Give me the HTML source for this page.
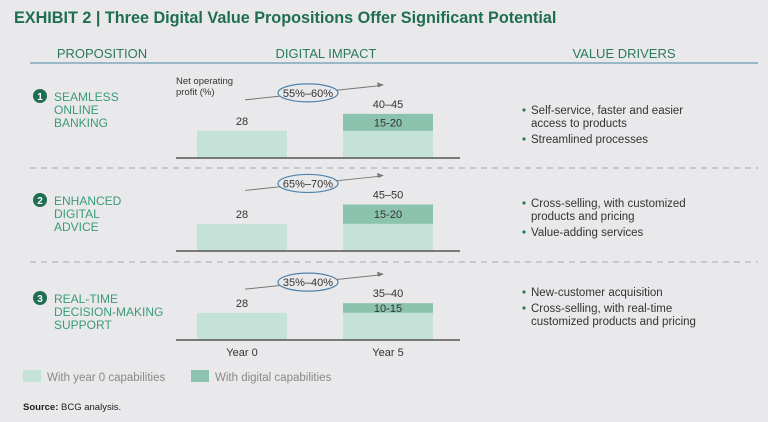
<!DOCTYPE html>
<html><head><meta charset="utf-8"><style>
html,body{margin:0;padding:0;background:#e9e9eb;}
svg{display:block;font-family:"Liberation Sans",sans-serif;}
</style></head><body>
<svg id="chart" width="768" height="422" viewBox="0 0 768 422">
<rect width="768" height="422" fill="#e9e9eb"/>
<text x="14" y="23" font-size="16.2" font-weight="bold" fill="#1f6e52">EXHIBIT 2 | Three Digital Value Propositions Offer Significant Potential</text>
<text x="102" y="58" font-size="13" fill="#2a7a5e" text-anchor="middle">PROPOSITION</text>
<text x="326" y="58" font-size="13" fill="#2a7a5e" text-anchor="middle">DIGITAL IMPACT</text>
<text x="624" y="58" font-size="13" fill="#2a7a5e" text-anchor="middle">VALUE DRIVERS</text>
<line x1="30" y1="63" x2="758" y2="63" stroke="#6a98b8" stroke-width="1.2"/>
<line x1="30" y1="168" x2="758" y2="168" stroke="#a8a8ac" stroke-dasharray="6,5"/>
<line x1="30" y1="262" x2="758" y2="262" stroke="#a8a8ac" stroke-dasharray="6,5"/>
<text x="176" y="84" font-size="9.5" fill="#333">Net operating</text>
<text x="176" y="95" font-size="9.5" fill="#333">profit (%)</text>
<g id="marks"></g>
<text x="242" y="356" font-size="11" fill="#333" text-anchor="middle">Year 0</text>
<text x="388" y="356" font-size="11" fill="#333" text-anchor="middle">Year 5</text>
<rect x="23" y="370" width="18" height="12" fill="#c5e2d8"/>
<text x="47" y="381" font-size="11.5" fill="#888">With year 0 capabilities</text>
<rect x="191" y="370" width="18" height="12" fill="#8cc3ae"/>
<text x="215" y="381" font-size="11.5" fill="#888">With digital capabilities</text>
<text x="23" y="410" font-size="9.5" fill="#222"><tspan font-weight="bold">Source:</tspan> BCG analysis.</text>
</svg>
<script>
const propositions=[["SEAMLESS","ONLINE","BANKING"],["ENHANCED","DIGITAL","ADVICE"],["REAL-TIME","DECISION-MAKING","SUPPORT"]];
const year0Values=[28,28,28];
const digitalIncrements=[17.5,20,10];
const totalLabels=["40–45","45–50","35–40"];
const incrementLabels=["15-20","15-20","10-15"];
const growthLabels=["55%–60%","65%–70%","35%–40%"];
const drivers=[[["Self-service, faster and easier","access to products"],["Streamlined processes"]],[["Cross-selling, with customized","products and pricing"],["Value-adding services"]],[["New-customer acquisition"],["Cross-selling, with real-time","customized products and pricing"]]];
const baselines=[158,251,340];
const labelTops=[96,200,298];
const driverTops=[114,207,296];
const scale=0.97;
function y(v,i){return baselines[i]-v*scale;}
const NS="http://www.w3.org/2000/svg";
const g=document.getElementById("marks");
function mk(tag,attrs,name,text){const e=document.createElementNS(NS,tag);for(const k in attrs)e.setAttribute(k,attrs[k]);


if(text!==undefined)e.textContent=text;g.appendChild(e);return e;}
for(let i=0;i<3;i++){
 const b=baselines[i];
 const tops=labelTops[i];
 mk("circle",{cx:40,cy:tops,r:7,fill:"#1f6e52"},"proposition-number-"+(i+1));
 mk("text",{x:40,y:tops+4,"font-size":10,"font-weight":"bold",fill:"#fff","text-anchor":"middle"},"proposition-number-text-"+(i+1),String(i+1));
 propositions[i].forEach((l,j)=>mk("text",{x:54,y:tops+5+j*13,"font-size":12,fill:"#3a9a7a"},"proposition-label-"+(i+1),l));
 const t0=y(year0Values[i],i), t5=y(year0Values[i]+digitalIncrements[i],i);
 mk("rect",{x:197,y:t0,width:90,height:b-t0,fill:"#c5e2d8"},"bar-year0-"+(i+1));
 mk("rect",{x:343,y:t0,width:90,height:b-t0,fill:"#c5e2d8"},"bar-year5-base-"+(i+1));
 mk("rect",{x:343,y:t5,width:90,height:t0-t5,fill:"#8cc3ae"},"bar-year5-digital-"+(i+1));
 mk("line",{x1:176,y1:b,x2:460,y2:b,stroke:"#555","stroke-width":1.5},"x-axis-"+(i+1));
 mk("text",{x:242,y:t0-6,"font-size":11,fill:"#333","text-anchor":"middle"},"value-year0-"+(i+1),String(year0Values[i]));
 mk("text",{x:388,y:t5-6,"font-size":11,fill:"#333","text-anchor":"middle"},"value-year5-total-"+(i+1),totalLabels[i]);
 mk("text",{x:388,y:(t5+t0)/2+4,"font-size":11,fill:"#333","text-anchor":"middle"},"value-year5-increment-"+(i+1),incrementLabels[i]);
 const ay=t5-20;
 mk("line",{x1:245,y1:ay+6,x2:378,y2:ay-8,stroke:"#777","stroke-width":1},"growth-arrow-"+(i+1));
 mk("path",{d:`M384,${ay-9} l-7,-2.5 l1,5 z`,fill:"#777"},"growth-arrowhead-"+(i+1));
 mk("ellipse",{cx:308,cy:ay-1,rx:30,ry:9,fill:"#e9e9eb",stroke:"#4f83aa","stroke-width":1.2},"growth-oval-"+(i+1));
 mk("text",{x:308,y:ay+3,"font-size":11,fill:"#333","text-anchor":"middle"},"growth-label-"+(i+1),growthLabels[i]);
 let ly=driverTops[i];
 drivers[i].forEach((d,k)=>{
  mk("circle",{cx:524,cy:ly-4,r:1.6,fill:"#2a7a5e"},"driver-bullet-"+(i+1));
  d.forEach((line,m)=>{mk("text",{x:531,y:ly,"font-size":11.5,fill:"#333"},"value-driver-"+(i+1),line);ly+=13;});
  ly+=3;
 });
}
</script>
</body></html>
